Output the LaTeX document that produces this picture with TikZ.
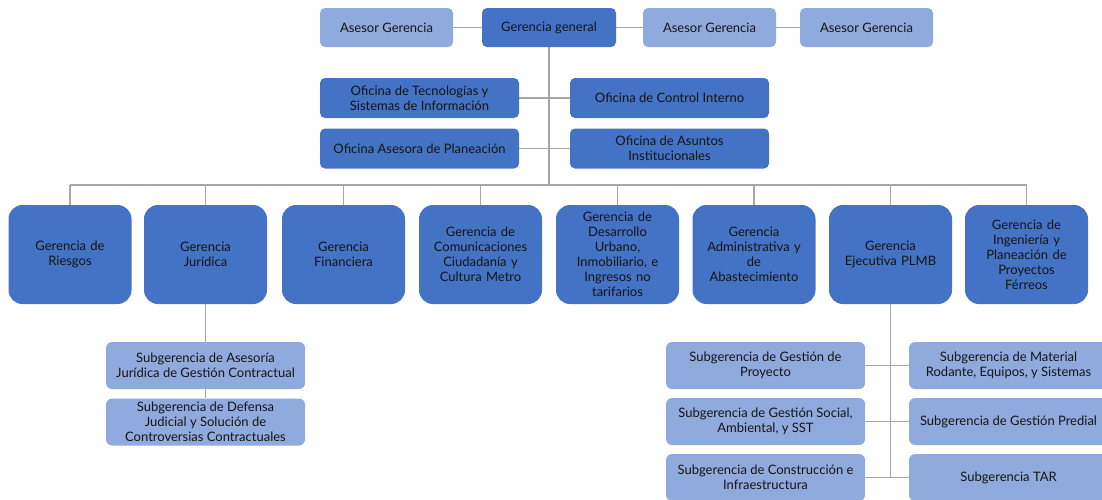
\documentclass[tikz,border=0pt]{standalone}
\usepackage{fontspec}
\setmainfont{Lato}
\usetikzlibrary{backgrounds}
\definecolor{dk}{HTML}{4472C4}
\definecolor{lt}{HTML}{8FAADC}
\definecolor{ln}{HTML}{A6A6A6}
\definecolor{tx}{HTML}{151515}
\begin{document}
\begin{tikzpicture}[x=1pt,y=-1pt,
  box/.style={rectangle,inner sep=1pt,align=center,text=tx,font=\fontsize{13}{15}\selectfont},
  topbox/.style={box,fill=lt,rounded corners=5pt,minimum width=133pt,minimum height=39pt},
  ggbox/.style={box,fill=dk,rounded corners=5pt,minimum width=134pt,minimum height=39pt},
  ofbox/.style={box,fill=dk,rounded corners=5pt,minimum width=199pt,minimum height=40pt},
  gbox/.style={box,fill=dk,rounded corners=14pt,minimum width=123pt,minimum height=99pt,text width=119pt},
  sbox/.style={box,fill=lt,rounded corners=6pt,minimum width=199pt,minimum height=47pt},
  conn/.style={draw=ln,line width=1.2pt}]
\useasboundingbox (0,0) rectangle (1102,499);
\clip (0,0) rectangle (1102,499);
% top row
\node[topbox] (as1) at (386.5,27.5) {Asesor Gerencia};
\node[ggbox] (gg) at (549,27.5) {Gerencia general};
\node[topbox] (as2) at (709.5,27.5) {Asesor Gerencia};
\node[topbox] (as3) at (866.5,27.5) {Asesor Gerencia};
% offices
\node[ofbox] (otsi) at (419.5,98) {Oficina de Tecnologías y\\Sistemas de Información};
\node[ofbox] (oci) at (669.5,98) {Oficina de Control Interno};
\node[ofbox] (oap) at (419.5,148.5) {Oficina Asesora de Planeación};
\node[ofbox] (oai) at (669.5,148.5) {Oficina de Asuntos\\Institucionales};
% gerencias
\node[gbox] (g1) at (70,254.5) {Gerencia de\\Riesgos};
\node[gbox] (g2) at (205.5,254.5) {Gerencia\\Jurídica};
\node[gbox] (g3) at (343.5,254.5) {Gerencia\\Financiera};
\node[gbox] (g4) at (480.5,254.5) {Gerencia de\\Comunicaciones\\Ciudadanía y\\Cultura Metro};
\node[gbox] (g5) at (617.5,254.5) {Gerencia de\\Desarrollo\\Urbano,\\Inmobiliario, e\\Ingresos no\\tarifarios};
\node[gbox] (g6) at (754,254.5) {Gerencia\\Administrativa y\\de\\Abastecimiento};
\node[gbox] (g7) at (890.5,254.5) {Gerencia\\Ejecutiva PLMB};
\node[gbox] (g8) at (1026.5,254.5) {Gerencia de\\Ingeniería y\\Planeación de\\Proyectos\\Férreos};
% subgerencias juridica
\node[sbox] (sj1) at (205.5,365.5) {Subgerencia de Asesoría\\Jurídica de Gestión Contractual};
\node[sbox] (sj2) at (205.5,422) {Subgerencia de Defensa\\Judicial y Solución de\\Controversias Contractuales};
% subgerencias PLMB
\node[sbox] (sl1) at (765.5,365.5) {Subgerencia de Gestión de\\Proyecto};
\node[sbox] (sl2) at (765.5,421.5) {Subgerencia de Gestión Social,\\Ambiental, y SST};
\node[sbox] (sl3) at (765.5,477.5) {Subgerencia de Construcción e\\Infraestructura};
\node[sbox] (sr1) at (1008.5,365.5) {Subgerencia de Material\\Rodante, Equipos, y Sistemas};
\node[sbox] (sr2) at (1008.5,421.5) {Subgerencia de Gestión Predial};
\node[sbox] (sr3) at (1008.5,477.5) {Subgerencia TAR};
% connectors
\coordinate (bus) at (549,185);
\begin{scope}[on background layer]
\draw[conn] (as1.east) -- (gg.west);
\draw[conn] (gg.east) -- (as2.west);
\draw[conn] (as2.east) -- (as3.west);
\draw[conn] (gg.south) -- (bus);
\draw[conn] (otsi.east) -- (oci.west);
\draw[conn] (oap.east) -- (oai.west);
\draw[conn] (bus -| g1.north) -- (bus -| g8.north);
\foreach \g in {g1,g2,g3,g4,g5,g6,g7,g8}
  \draw[conn] (bus -| \g.north) -- (\g.north);
\draw[conn] (g2.south) -- (sj1.north);
\draw[conn] (sj1.south) -- (sj2.north);
\draw[conn] (g7.south) -- (g7.south |- sl3.east);
\draw[conn] (sl1.east) -- (sr1.west);
\draw[conn] (sl2.east) -- (sr2.west);
\draw[conn] (sl3.east) -- (sr3.west);
\end{scope}
\end{tikzpicture}
\end{document}
